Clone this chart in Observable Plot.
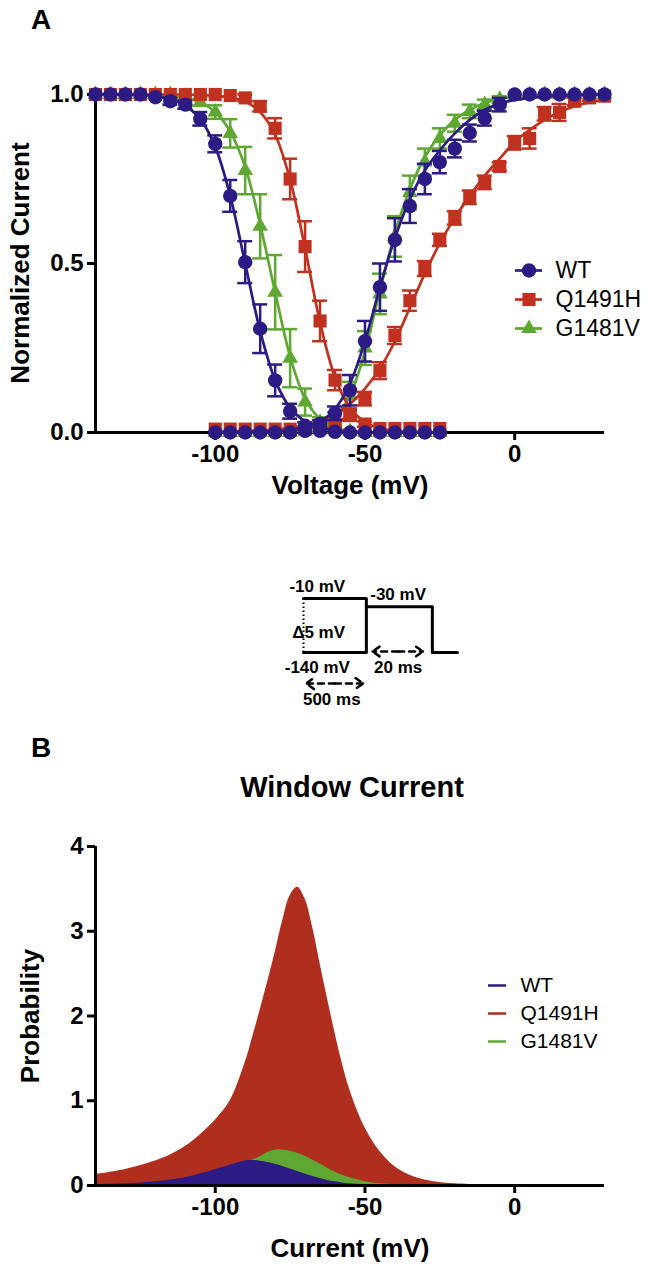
<!DOCTYPE html>
<html><head><meta charset="utf-8">
<script src="https://cdn.jsdelivr.net/npm/d3@7"></script>
<script src="https://cdn.jsdelivr.net/npm/@observablehq/plot@0.6"></script>
<style>
html,body{margin:0;padding:0;background:#fff;}
#root{position:relative;width:656px;height:1267px;overflow:hidden;font-family:"Liberation Sans",Arial,Helvetica,sans-serif;}
.box{position:absolute;}
.lbl{position:absolute;white-space:nowrap;font-weight:bold;color:#000;line-height:1;}
</style></head><body><div id="root"></div>
<script>
// ---------------- DATA ----------------
const series = ["WT", "Q1491H", "G1481V"];
const colorsA = ["#2c1a85", "#c0321f", "#5ea832"];
const colorsB = ["#2c1a85", "#b02e1e", "#5ea832"];
const symbolsA = ["circle", "square", "triangle"];

const xTicks = [-100, -50, 0];
const yTicksA = [0, 0.5, 1];
const yTicksB = [0, 1, 2, 3, 4];

// Panel A: steady-state inactivation (voltage, mean, SEM)
const inactV = [-140,-135,-130,-125,-120,-115,-110,-105,-100,-95,-90,-85,-80,-75,-70,-65,-60,-55,-50,-45,-40,-35,-30,-25];
const wtInact    = [1,1,1,1,0.992,0.98,0.97,0.928,0.854,0.70,0.504,0.307,0.154,0.063,0.02,0.005,0.002,0,0,0,0,0,0,0];
const wtInactErr = [0.004,0.004,0.004,0.004,0.006,0.01,0.012,0.02,0.025,0.047,0.062,0.072,0.047,0.022,0.01,0.004,0,0,0,0,0,0,0,0];
const qInact     = [1,1,1,1,1,1,1,1,1,0.997,0.99,0.965,0.90,0.75,0.55,0.33,0.155,0.055,0.025,0.012,0.012,0.012,0.012,0.012];
const qInactErr  = [0.004,0.004,0.004,0.004,0.004,0.004,0.004,0.004,0.004,0.005,0.01,0.015,0.03,0.06,0.075,0.06,0.03,0.015,0.008,0.004,0.004,0.004,0.004,0.004];
const gInact     = [1,1,1,1,1,1,0.995,0.977,0.948,0.885,0.775,0.61,0.415,0.22,0.09,0.03,0.01,0.003,0,0,0,0,0,0];
const gInactErr  = [0.004,0.004,0.004,0.004,0.004,0.004,0.006,0.01,0.02,0.042,0.07,0.095,0.11,0.086,0.04,0.015,0.006,0.003,0,0,0,0,0,0];

// Panel A: activation (voltage, mean, SEM)
const actV = [-100,-95,-90,-85,-80,-75,-70,-65,-60,-55,-50,-45,-40,-35,-30,-25,-20,-15,-10,-5,0,5,10,15,20,25,30];
const wtAct    = [0,0,0,0,0,0,0.005,0.026,0.057,0.125,0.27,0.43,0.57,0.67,0.75,0.80,0.84,0.886,0.93,0.97,1,1,1,1,1,1,1];
const wtActErr = [0,0,0,0,0,0,0.005,0.01,0.02,0.045,0.06,0.07,0.064,0.05,0.045,0.033,0.026,0.025,0.022,0.02,0.005,0.004,0.004,0.004,0.004,0.004,0.004];
const qAct     = [0.01,0.01,0.01,0.01,0.01,0.01,0.012,0.015,0.025,0.05,0.10,0.183,0.287,0.39,0.485,0.57,0.635,0.696,0.74,0.787,0.857,0.87,0.943,0.947,0.98,0.99,0.995];
const qActErr  = [0.004,0.004,0.004,0.004,0.004,0.004,0.005,0.006,0.01,0.015,0.02,0.025,0.025,0.03,0.022,0.018,0.02,0.02,0.02,0.012,0.02,0.03,0.02,0.025,0.012,0.008,0.005];
const gAct     = [0,0,0,0,0,0,0.004,0.012,0.04,0.11,0.25,0.41,0.58,0.71,0.80,0.87,0.915,0.95,0.97,0.985,0.995,1,1,1,1,1,1];
const gActErr  = [0,0,0,0,0,0,0.004,0.01,0.02,0.04,0.05,0.06,0.06,0.05,0.04,0.03,0.025,0.02,0.015,0.01,0.005,0.004,0.004,0.004,0.004,0.004,0.004];

// Panel A: fitted curves
const wtInactFit = [1,1,0.999,0.998,0.994,0.986,0.967,0.927,0.845,0.70,0.50,0.30,0.155,0.073,0.033,0.014,0.006,0.003,0.001,0,0,0,0,0];
const qInactFit  = [1,1,1,1,1,1,1,0.999,0.996,0.991,0.979,0.948,0.881,0.748,0.545,0.326,0.163,0.073,0.031,0.013,0.005,0.002,0.001,0];
const gInactFit  = [1,1,1,1,0.998,0.995,0.989,0.977,0.948,0.89,0.785,0.615,0.415,0.225,0.10,0.04,0.015,0.005,0.002,0.001,0,0,0,0];
const wtActFit = [0,0,0.001,0.002,0.004,0.008,0.016,0.032,0.07,0.145,0.27,0.43,0.575,0.69,0.775,0.835,0.885,0.925,0.955,0.973,0.984,0.99,0.994,0.996,0.998,0.999,1];
const qActFit  = [0.002,0.003,0.004,0.006,0.009,0.014,0.022,0.035,0.055,0.085,0.13,0.19,0.27,0.37,0.47,0.56,0.635,0.70,0.76,0.81,0.86,0.895,0.925,0.948,0.965,0.977,0.985];
const gActFit  = [0,0,0,0.001,0.002,0.004,0.008,0.018,0.045,0.11,0.24,0.42,0.59,0.72,0.815,0.88,0.925,0.955,0.975,0.987,0.993,0.996,0.998,0.999,0.999,1,1];

// Panel B: window current probability
const winV  = [-140,-130,-120,-115,-110,-105,-100,-95,-90,-87.5,-85,-82.5,-80,-77.5,-75,-72.5,-70,-67.5,-65,-62.5,-60,-57.5,-55,-50,-45,-40,-35,-30,-25,-20,-10,0,10,20,30];
const wtWin = [0.01,0.02,0.045,0.065,0.092,0.135,0.185,0.24,0.29,0.295,0.285,0.27,0.25,0.225,0.195,0.165,0.135,0.107,0.082,0.06,0.043,0.03,0.02,0.009,0.004,0.002,0.001,0,0,0,0,0,0,0,0];
const qWin  = [0.13,0.19,0.29,0.36,0.46,0.6,0.77,1.0,1.45,1.75,2.07,2.4,2.75,3.12,3.42,3.52,3.38,3.05,2.62,2.2,1.8,1.43,1.12,0.68,0.4,0.22,0.12,0.065,0.035,0.02,0.007,0.003,0.002,0.001,0.001];
const gWin  = [0.006,0.012,0.027,0.04,0.06,0.09,0.13,0.19,0.26,0.3,0.34,0.39,0.415,0.42,0.405,0.38,0.345,0.3,0.255,0.205,0.16,0.12,0.09,0.045,0.02,0.009,0.004,0.002,0.001,0,0,0,0,0,0];

// Protocol inset (schematic)
const protoT = [0, 1, 2.05, 2.45];          // start, end of 500 ms prepulse, end of 20 ms test, end
const protoLevels = {hold: -140, top: -10, test: -30, step: 5};
const protoDur = {pre: 500, test: 20};

// ---------------- HELPERS ----------------
const FONT = '"Liberation Sans", Arial, Helvetica, sans-serif';
const root = document.getElementById("root");
function place(node, left, top, w) {
  const d = document.createElement("div");
  d.className = "box"; d.style.left = left + "px"; d.style.top = top + "px"; d.style.width = w + "px";
  node.style.maxWidth = "none"; node.style.background = "transparent";
  d.appendChild(node); root.appendChild(d);
}
function label(text, cx, cy, size, rotate, weight) {
  const d = document.createElement("div");
  d.className = "lbl"; d.textContent = text;
  d.style.fontSize = size + "px";
  if (weight) d.style.fontWeight = weight;
  d.style.left = cx + "px"; d.style.top = cy + "px";
  d.style.transform = "translate(-50%,-50%)" + (rotate ? " rotate(-90deg)" : "");
  root.appendChild(d);
}
const rows = (V, Y, E) => V.map((v, i) => ({v, y: Y[i], e: E ? E[i] : 0}));
const xDomain = [inactV[0], actV[actV.length - 1]];
const hyphen = d => String(d);

// ---------------- PANEL A ----------------
const inactSets = [[wtInact, wtInactErr, wtInactFit], [qInact, qInactErr, qInactFit], [gInact, gInactErr, gInactFit]];
const actSets = [[wtAct, wtActErr, wtActFit], [qAct, qActErr, qActFit], [gAct, gActErr, gActFit]];
const rSize = {circle: 7.2, square: 7.4, triangle: 5.8};

function seriesMarks(i) {
  const c = colorsA[i], sym = symbolsA[i];
  const marks = [];
  for (const [V, set] of [[inactV, inactSets[i]], [actV, actSets[i]]]) {
    const pts = rows(V, set[0], set[1]);
    const eb = pts.filter(d => d.e > 0.006);
    marks.push(Plot.line(rows(V, set[2]), {x: "v", y: "y", stroke: c, strokeWidth: 2.7, curve: "catmull-rom"}));
    marks.push(Plot.ruleX(eb, {x: "v", y1: d => d.y - d.e, y2: d => d.y + d.e, stroke: c, strokeWidth: 2.5}));
    marks.push(Plot.ruleY(eb, {y: d => d.y + d.e, x1: d => d.v - 2.5, x2: d => d.v + 2.5, stroke: c, strokeWidth: 2.5}));
    marks.push(Plot.ruleY(eb, {y: d => d.y - d.e, x1: d => d.v - 2.5, x2: d => d.v + 2.5, stroke: c, strokeWidth: 2.5}));
    marks.push(Plot.dot(pts, {x: "v", y: "y", symbol: sym, fill: c, stroke: "none", r: rSize[sym]}));
  }
  return marks;
}

const axisStyle = {tickSize: 8, tickPadding: 4, strokeWidth: 3, label: null, fontSize: 24, fontWeight: "bold"};

const plotA = Plot.plot({
  width: 656, height: 500, marginTop: 94, marginBottom: 68, marginLeft: 95, marginRight: 52,
  x: {domain: xDomain}, y: {domain: [yTicksA[0], yTicksA[yTicksA.length - 1]]},
  style: {fontFamily: FONT, fontSize: "24px", fontWeight: "bold", color: "#000", overflow: "visible"},
  marks: [
    Plot.ruleX([xDomain[0]], {y1: 0, y2: 1, strokeWidth: 3, stroke: "#000"}),
    Plot.ruleY([0], {x1: xDomain[0], x2: xDomain[1], strokeWidth: 3, stroke: "#000"}),
    Plot.axisX({ticks: xTicks, tickFormat: hyphen, ...axisStyle}),
    Plot.axisY({ticks: yTicksA, tickFormat: d3.format(".1f"), ...axisStyle}),
    ...seriesMarks(2), ...seriesMarks(1), ...seriesMarks(0)
  ]
});
place(plotA, 0, 0, 656);

// legend A
const legA = Plot.plot({
  width: 150, height: 140, margin: 0,
  x: {domain: [0, 1], range: [10, 37], axis: null},
  y: {type: "point", domain: series, range: [24, 113], axis: null},
  style: {fontFamily: FONT, overflow: "visible"},
  marks: series.flatMap((s, i) => [
    Plot.ruleY([s], {y: d => d, x1: () => 0, x2: () => 1, stroke: colorsA[i], strokeWidth: 2.7}),
    Plot.dot([s], {x: () => 0.5, y: d => d, symbol: symbolsA[i], fill: colorsA[i], r: rSize[symbolsA[i]]}),
    Plot.text([s], {x: () => 1, y: d => d, text: d => d, dx: 13, textAnchor: "start", fontSize: 23, fill: "#000"})
  ])
});
place(legA, 505, 230, 150);

// ---------------- PROTOCOL INSET ----------------
const [t0, t1, t2, t3] = protoT;
const P = protoLevels;
const FS = 17;
const inset = Plot.plot({
  width: 230, height: 150, marginLeft: 53, marginRight: 23, marginTop: 38, marginBottom: 58,
  x: {domain: [t0, t3], axis: null}, y: {domain: [P.hold, P.top], axis: null},
  style: {fontFamily: FONT, fontWeight: "bold", overflow: "visible"},
  marks: [
    Plot.ruleX([t0], {y1: P.hold, y2: P.top, stroke: "#000", strokeWidth: 2, strokeDasharray: "1.5,2.5"}),
    Plot.line([[t0, P.top], [t1, P.top], [t1, P.hold], [t0, P.hold]], {stroke: "#000", strokeWidth: 3}),
    Plot.line([[t1, P.test], [t2, P.test], [t2, P.hold], [t3, P.hold]], {stroke: "#000", strokeWidth: 3}),
    Plot.arrow([[(t0 + t1) / 2, t0 + 0.04], [(t0 + t1) / 2, t1 - 0.05]], {x1: d => d[0], x2: d => d[1], y1: () => P.hold, y2: () => P.hold, dy: 31, stroke: "#000", strokeWidth: 2.5, strokeDasharray: "6,5", headLength: 7, headAngle: 70}),
    Plot.arrow([[(t1 + t2) / 2 - 0.02, t1 + 0.1], [(t1 + t2) / 2 - 0.02, t2 - 0.15]], {x1: d => d[0], x2: d => d[1], y1: () => P.hold, y2: () => P.hold, dy: -1, stroke: "#000", strokeWidth: 2.5, strokeDasharray: "6,5", headLength: 7, headAngle: 70}),
    Plot.text([`${P.top} mV`], {x: () => t0 + 0.22, y: () => P.top, dy: -12, text: d => d, fontSize: FS, fontWeight: "bold"}),
    Plot.text([`${P.test} mV`], {x: () => (t1 + t2) / 2 - 0.02, y: () => P.test, dy: -12, text: d => d, fontSize: FS, fontWeight: "bold"}),
    Plot.text([`\u0394${P.step} mV`], {x: () => t0 + 0.24, y: () => (P.hold + P.top) / 2, dy: 7, text: d => d, fontSize: FS, fontWeight: "bold"}),
    Plot.text([`${P.hold} mV`], {x: () => t0 + 0.22, y: () => P.hold, dy: 15, text: d => d, fontSize: FS, fontWeight: "bold"}),
    Plot.text([`${protoDur.test} ms`], {x: () => (t1 + t2) / 2 - 0.02, y: () => P.hold, dy: 15, text: d => d, fontSize: FS, fontWeight: "bold"}),
    Plot.text([`${protoDur.pre} ms`], {x: () => (t0 + t1) / 2 - 0.05, y: () => P.hold, dy: 47, text: d => d, fontSize: FS, fontWeight: "bold"})
  ]
});
place(inset, 250, 560, 230);

// ---------------- PANEL B ----------------
const winSets = [wtWin, qWin, gWin];
const areaMarks = [1, 2, 0].map(i => Plot.areaY(rows(winV, winSets[i]), {x: "v", y: "y", fill: colorsB[i], curve: "catmull-rom"}));
const plotB = Plot.plot({
  width: 656, height: 467, marginTop: 46, marginBottom: 82, marginLeft: 95, marginRight: 52,
  x: {domain: xDomain}, y: {domain: [yTicksB[0], yTicksB[yTicksB.length - 1]]},
  style: {fontFamily: FONT, fontSize: "24px", fontWeight: "bold", color: "#000", overflow: "visible"},
  marks: [
    ...areaMarks,
    Plot.ruleX([xDomain[0]], {y1: yTicksB[0], y2: yTicksB[yTicksB.length - 1], strokeWidth: 3, stroke: "#000"}),
    Plot.ruleY([0], {x1: xDomain[0], x2: xDomain[1], strokeWidth: 3, stroke: "#000"}),
    Plot.axisX({ticks: xTicks, tickFormat: hyphen, ...axisStyle}),
    Plot.axisY({ticks: yTicksB, tickFormat: d3.format("d"), ...axisStyle})
  ]
});
place(plotB, 0, 800, 656);

const legB = Plot.plot({
  width: 180, height: 140, margin: 0,
  x: {domain: [0, 1], range: [18, 36], axis: null},
  y: {type: "point", domain: series, range: [30, 116], axis: null},
  style: {fontFamily: FONT, overflow: "visible"},
  marks: series.flatMap((s, i) => [
    Plot.ruleY([s], {y: d => d, x1: () => 0, x2: () => 1, stroke: colorsB[i], strokeWidth: 2.5}),
    Plot.text([s], {x: () => 1, y: d => d, text: d => d, dx: 14, textAnchor: "start", fontSize: 21, fill: "#000"})
  ])
});
place(legB, 470, 940, 180);

// ---------------- TEXT ----------------
label("A", 41, 20, 28);
label("Normalized Current", 20, 263, 26, true);
label("Voltage (mV)", 350, 485, 26);
label("B", 41, 748, 28);
label("Window Current", 352, 787, 29);
label("Probability", 30, 1016, 26, true);
label("Current (mV)", 350, 1248, 26);
</script></body></html>
